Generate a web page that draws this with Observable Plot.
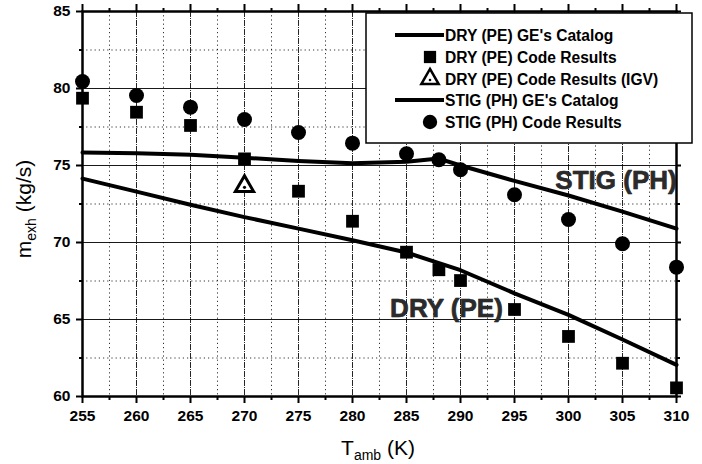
<!DOCTYPE html>
<html>
<head>
<meta charset="utf-8">
<script src="https://cdn.jsdelivr.net/npm/d3@7"></script>
<script src="https://cdn.jsdelivr.net/npm/@observablehq/plot@0.6"></script>
<style>
  html, body { margin: 0; padding: 0; background: #fff; }
  #chart { width: 702px; height: 464px; }
</style>
</head>
<body>
<div id="chart"></div>
<script>
// ---- data ----
const xTicks = [255, 260, 265, 270, 275, 280, 285, 290, 295, 300, 305, 310];
const xMinor = [257.5, 262.5, 267.5, 272.5, 277.5, 282.5, 287.5, 292.5, 297.5, 302.5, 307.5];
const yTicks = [60, 65, 70, 75, 80, 85];
const yMinor = [62.5, 67.5, 72.5, 77.5, 82.5];

const dryCatalogT = [255, 260, 265, 270, 275, 280, 285, 290, 295, 300, 305, 310];
const dryCatalogM = [74.15, 73.3, 72.45, 71.65, 70.9, 70.15, 69.35, 68.2, 66.7, 65.3, 63.7, 62.05];

const stigCatalogT = [255, 260, 265, 270, 275, 280, 285, 288, 290, 295, 300, 305, 310];
const stigCatalogM = [75.85, 75.8, 75.7, 75.5, 75.3, 75.15, 75.25, 75.45, 75.0, 74.0, 73.05, 72.0, 70.9];

const codeT = [255, 260, 265, 270, 275, 280, 285, 288, 290, 295, 300, 305, 310];
const dryCodeM = [79.37, 78.46, 77.6, 75.43, 73.33, 71.38, 69.37, 68.23, 67.53, 65.65, 63.9, 62.16, 60.56];
const stigCodeM = [80.45, 79.55, 78.79, 77.99, 77.14, 76.45, 75.76, 75.37, 74.72, 73.1, 71.49, 69.92, 68.4];

const igvT = [270];
const igvM = [73.65];

const legendLabels = [
  "DRY (PE) GE's Catalog",
  "DRY (PE) Code Results",
  "DRY (PE) Code Results (IGV)",
  "STIG (PH) GE's Catalog",
  "STIG (PH) Code Results"
];
const annotations = [
  {t: 304.4, m: 74.0, label: "STIG (PH)"},
  {t: 288.7, m: 65.7, label: "DRY (PE)"}
];

// ---- tables ----
const dryLine = dryCatalogT.map((t, i) => ({t, m: dryCatalogM[i]}));
const stigLine = stigCatalogT.map((t, i) => ({t, m: stigCatalogM[i]}));
const dryPts = codeT.map((t, i) => ({t, m: dryCodeM[i]}));
const stigPts = codeT.map((t, i) => ({t, m: stigCodeM[i]}));
const igvPts = igvT.map((t, i) => ({t, m: igvM[i]}));

const FONT = "'Liberation Sans', Arial, Helvetica, sans-serif";
const blank = () => "";

const plot = Plot.plot({
  width: 702,
  height: 464,
  marginLeft: 82,
  marginRight: 26,
  marginTop: 11,
  marginBottom: 68,
  style: {fontFamily: FONT, fontSize: "15.5px", fontWeight: "bold", background: "#fff", color: "#000"},
  x: {domain: [255, 310], label: null},
  y: {domain: [60, 85], label: null},
  marks: [
    // grid
    Plot.ruleX(xMinor, {stroke: "#000", strokeWidth: 1, strokeDasharray: "1.2,3", strokeOpacity: 0.8}),
    Plot.ruleY(yMinor, {stroke: "#000", strokeWidth: 1, strokeDasharray: "1.2,3", strokeOpacity: 0.8}),
    Plot.ruleX(xTicks.slice(1, -1), {stroke: "#000", strokeWidth: 1, strokeDasharray: "6,1,1,1", strokeOpacity: 0.85}),
    Plot.ruleY(yTicks.slice(1, -1), {stroke: "#000", strokeWidth: 1.2, strokeOpacity: 0.9}),
    // axes
    Plot.axisX({ticks: xTicks, tickSize: 7, tickPadding: 6, strokeWidth: 2, fontSize: 15.5, fontWeight: "bold"}),
    Plot.axisX({ticks: xMinor, tickSize: 4, tickFormat: blank, strokeWidth: 2}),
    Plot.axisX({anchor: "top", ticks: xTicks, tickSize: 8, tickFormat: blank, strokeWidth: 2}),
    Plot.axisX({anchor: "top", ticks: xMinor, tickSize: 4, tickFormat: blank, strokeWidth: 2}),
    Plot.axisY({ticks: yTicks, tickSize: 6, tickPadding: 6, strokeWidth: 2, fontSize: 15.5, fontWeight: "bold"}),
    Plot.axisY({ticks: yMinor, tickSize: 3, tickFormat: blank, strokeWidth: 2}),
    Plot.axisY({anchor: "right", ticks: yTicks, tickSize: 4, tickFormat: blank, strokeWidth: 2}),
    Plot.axisY({anchor: "right", ticks: yMinor, tickSize: 3, tickFormat: blank, strokeWidth: 2}),
    Plot.frame({stroke: "#000", strokeWidth: 2.5}),
    // catalog lines
    Plot.line(stigLine, {x: "t", y: "m", stroke: "#000", strokeWidth: 4}),
    Plot.line(dryLine, {x: "t", y: "m", stroke: "#000", strokeWidth: 4}),
    // code results
    Plot.dot(dryPts, {x: "t", y: "m", symbol: "square", r: 7.2, fill: "#000", stroke: "none"}),
    Plot.dot(stigPts, {x: "t", y: "m", symbol: "circle", r: 7.5, fill: "#000", stroke: "none"}),
    Plot.dot(igvPts, {x: "t", y: "m", symbol: "triangle", r: 6.8, fill: "#fff", stroke: "#000", strokeWidth: 3}),
    Plot.dot(igvPts, {x: "t", y: "m", r: 1.6, fill: "#000", stroke: "none", dy: 1}),
    // annotations
    Plot.text(annotations, {x: "t", y: "m", text: "label", fontSize: 26, fontWeight: "bold", fill: "#2b2b2b", stroke: "#000", strokeWidth: 0.6})
  ]
});

document.getElementById("chart").appendChild(plot);

// ---- axis titles and legend ----
const svg = d3.select(plot);

// y title
const yt = svg.append("text")
  .attr("transform", "translate(31,209) rotate(-90)")
  .attr("text-anchor", "middle")
  .style("font-family", FONT).style("font-size", "21px").style("font-weight", "normal").attr("fill", "#000");
yt.append("tspan").text("m");
yt.append("tspan").attr("dy", 5).style("font-size", "14px").text("exh");
yt.append("tspan").attr("dy", -5).text(" (kg/s)");

// x title
const xt = svg.append("text")
  .attr("x", 378).attr("y", 455)
  .attr("text-anchor", "middle")
  .style("font-family", FONT).style("font-size", "21px").style("font-weight", "normal").attr("fill", "#000");
xt.append("tspan").text("T");
xt.append("tspan").attr("dy", 5).style("font-size", "14px").text("amb");
xt.append("tspan").attr("dy", -5).text(" (K)");

// legend
const lg = svg.append("g");
lg.append("rect").attr("x", 366).attr("y", 13).attr("width", 326).attr("height", 130)
  .attr("fill", "#fff").attr("stroke", "#000").attr("stroke-width", 1.5);
const rowY = [35, 57, 79, 100, 122];
const kinds = ["line", "square", "triangle", "line", "circle"];
kinds.forEach((k, i) => {
  const y = rowY[i];
  if (k === "line") {
    lg.append("line").attr("x1", 395).attr("x2", 444).attr("y1", y).attr("y2", y)
      .attr("stroke", "#000").attr("stroke-width", 4);
  } else if (k === "square") {
    lg.append("path").attr("d", d3.symbol(d3.symbolSquare, 150)()).attr("transform", `translate(430,${y})`).attr("fill", "#000");
  } else if (k === "triangle") {
    lg.append("path").attr("d", d3.symbol(d3.symbolTriangle, 130)()).attr("transform", `translate(430,${y})`)
      .attr("fill", "#fff").attr("stroke", "#000").attr("stroke-width", 2.5);
    lg.append("circle").attr("cx", 430).attr("cy", y + 1).attr("r", 1.3).attr("fill", "#000");
  } else {
    lg.append("circle").attr("cx", 430).attr("cy", y).attr("r", 7.2).attr("fill", "#000");
  }
  lg.append("text").attr("x", 445).attr("y", y).attr("dy", "0.36em")
    .attr("text-anchor", "start")
    .style("font-family", FONT).style("font-size", "15.6px").style("font-weight", "bold")
    .attr("fill", "#000").text(legendLabels[i]);
});
</script>
</body>
</html>
